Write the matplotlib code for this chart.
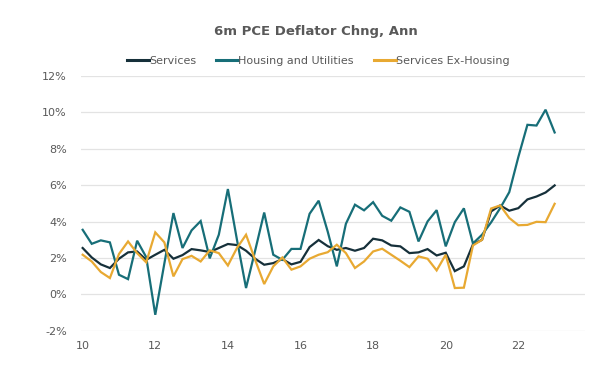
import matplotlib
matplotlib.use("Agg")
import matplotlib.pyplot as plt
import numpy as np
from matplotlib.ticker import FuncFormatter

# Quarterly observations, 2010Q1 .. 2023Q1
start_year = 2010
services = [2.55, 2.03, 1.65, 1.45, 1.96, 2.31, 2.36, 1.90, 2.18, 2.45,
            1.96, 2.16, 2.49, 2.42, 2.33, 2.55, 2.77, 2.71, 2.40, 1.96,
            1.63, 1.72, 1.94, 1.65, 1.79, 2.60, 2.99, 2.65, 2.45, 2.55,
            2.40, 2.55, 3.06, 2.97, 2.69, 2.64, 2.27, 2.31, 2.49, 2.14,
            2.29, 1.28, 1.54, 2.75, 3.00, 4.56, 4.89, 4.60, 4.74, 5.22,
            5.38, 5.60, 5.99]
housing = [3.55, 2.78, 2.97, 2.86, 1.08, 0.84, 2.95, 2.05, -1.12, 1.70,
           4.47, 2.55, 3.52, 4.03, 1.98, 3.28, 5.79, 3.00, 0.35, 2.40,
           4.50, 2.18, 1.90, 2.50, 2.50, 4.43, 5.15, 3.45, 1.54, 3.88,
           4.93, 4.62, 5.07, 4.32, 4.05, 4.78, 4.54, 2.91, 4.01, 4.63,
           2.64, 3.97, 4.73, 2.80, 3.28, 3.96, 4.74, 5.62, 7.55, 9.32,
           9.28, 10.15, 8.90]
ex_housing = [2.18, 1.81, 1.23, 0.90, 2.22, 2.91, 2.27, 1.76, 3.41, 2.86,
              0.99, 1.94, 2.12, 1.81, 2.42, 2.27, 1.59, 2.55, 3.28, 1.90,
              0.57, 1.54, 2.03, 1.36, 1.54, 1.96, 2.18, 2.32, 2.73, 2.27,
              1.45, 1.81, 2.36, 2.51, 2.18, 1.85, 1.50, 2.09, 1.96, 1.32,
              2.18, 0.35, 0.37, 2.69, 3.00, 4.72, 4.89, 4.20, 3.80, 3.82,
              3.99, 3.97, 4.98]
series_names = ["Services", "Housing and Utilities", "Services Ex-Housing"]
colors = ["#16303A", "#176E78", "#E8A932"]
x_ticks = [2010, 2012, 2014, 2016, 2018, 2020, 2022]
y_ticks = [-2, 0, 2, 4, 6, 8, 10, 12]

x = start_year + 0.25 * np.arange(len(services))

fig = plt.figure(figsize=(6.02, 3.86), dpi=100)
ax = fig.add_axes([0.134, 0.143, 0.838, 0.660])

for vals, name, c in zip([services, housing, ex_housing], series_names, colors):
    ax.plot(x, vals, color=c, lw=1.6, label=name, solid_joinstyle="miter")

ax.set_xlim(2009.945, 2023.84)
ax.set_ylim(-2, 12)
ax.set_yticks(y_ticks)
ax.set_xticks(x_ticks)
ax.set_xticklabels([f"{t % 100:02d}" for t in x_ticks])
ax.yaxis.set_major_formatter(FuncFormatter(lambda v, p: f"{v:.0f}%"))
ax.grid(axis="y", color="#E3E3E3", lw=0.9)
ax.set_axisbelow(True)
for s in ax.spines.values():
    s.set_visible(False)
ax.tick_params(axis="both", length=0, labelsize=8, colors="#595959")
ax.tick_params(axis="y", pad=10)
ax.tick_params(axis="x", pad=7)

fig.text(316 / 602, 1 - 32 / 386, "6m PCE Deflator Chng, Ann", ha="center", va="center",
         fontsize=9.5, fontweight="bold", color="#595959")
leg = fig.legend(loc="center", bbox_to_anchor=(318 / 602, 1 - 61 / 386), ncol=3, frameon=False,
                 fontsize=8, handlelength=2.0, handletextpad=0.0, columnspacing=1.8,
                 labelcolor="#595959")
for line in leg.get_lines():
    line.set_linewidth(2.2)

fig.savefig("out.png", dpi=100)
